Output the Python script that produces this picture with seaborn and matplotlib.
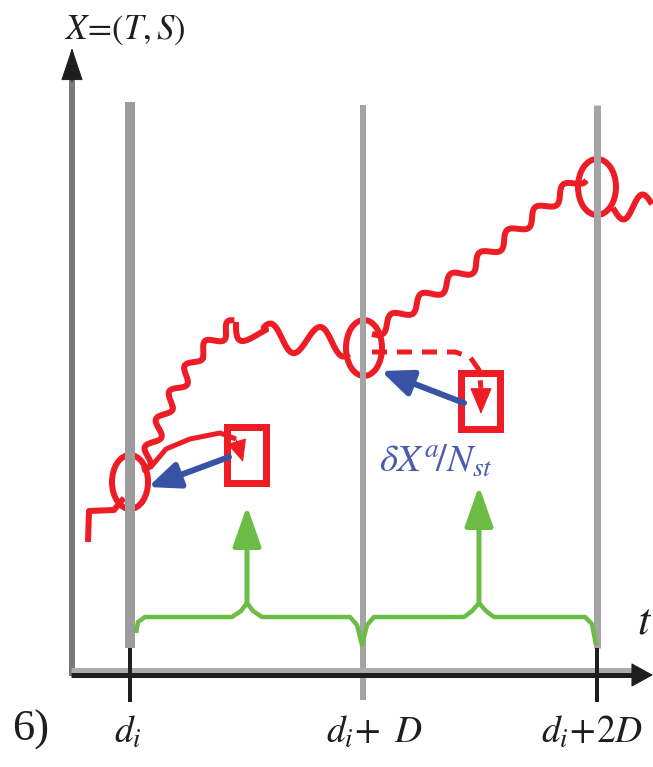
import matplotlib
matplotlib.use("Agg")
import matplotlib.pyplot as plt
import seaborn as sns
from matplotlib.patches import Ellipse, Rectangle

sns.set_theme(style="white")
plt.rcParams["font.family"] = ["Liberation Serif", "DejaVu Serif"]
plt.rcParams["mathtext.fontset"] = "stix"

# ---------------- data (diagram coordinates, pixel-like, y downward) ----------------
event_x = [130, 363, 597]                       # d_i, d_i+D, d_i+2D
event_labels = [r"$d_i$", r"$d_i\!+\ D$", r"$d_i\!+\!2D$"]
event_label_x = [128, 375, 592]
panel_label = "6)"
y_axis_label = r"$X\!=\!(T,S)$"
x_axis_label = r"$t$"
blue_label = r"$\delta X^{a}\!/N_{st}$"

# red (wiggly) trajectory, in segments
red_start_x = [88, 89, 114, 124]
red_start_y = [542, 511, 510, 498]
red_climb_x = [142, 168, 198, 236]
red_climb_y = [470, 405, 355, 322]
red_ridge_x = [236, 262, 350]
red_ridge_y = [322, 337, 343]
red_rise_x = [372, 470, 583]
red_rise_y = [334, 268, 176]
red_tail_x = [613, 652]
red_tail_y = [208, 206]

# loops at the assimilation times (cx, cy, w, h)
loop_cx = [130, 364, 597]
loop_cy = [482, 348, 187]
loop_w = [36, 36, 38]
loop_h = [54, 56, 56]

# red squares (analysis states)
square_cx = [246, 480]
square_cy = [455, 401]

# red forecast arcs ending in arrows
arc1_x = [150, 166, 190, 220, 236]
arc1_y = [468, 449, 439, 433, 439]
arc2_x = [372, 455, 470, 479, 481]
arc2_y = [352, 352, 357, 370, 388]

# blue increment arrows (start -> tip)
blue_from = [(229, 457), (464, 403)]
blue_to = [(148, 487), (381, 371)]

# green brace and arrows
brace_x = [136, 138, 145, 232, 241, 247, 253, 262, 350, 357, 362, 367, 374,
           464, 472, 479, 486, 494, 585, 592, 596]
brace_y = [633, 622, 617, 617, 611, 603, 611, 617, 617, 625, 645, 625, 617,
           617, 611, 603, 611, 617, 617, 624, 645]
green_arrow_x = [247, 479]
green_arrow_top = [506, 486]
green_arrow_bottom = [603, 603]

# ---------------- styles ----------------
RED = "#ee1c25"
GREEN = "#6cbd45"
BLUE = "#3953a4"
GRAY = "#9c9c9c"
PX = 0.72  # points per pixel at dpi=100

fig = plt.figure(figsize=(6.53, 7.67), dpi=100)
ax = fig.add_axes([0, 0, 1, 1])
ax.set_xlim(0, 653)
ax.set_ylim(767, 0)
ax.axis("off")


def poly(xs, ys, color, lw_px, z, **kw):
    sns.lineplot(x=xs, y=ys, sort=False, estimator=None, color=color,
                 linewidth=lw_px * PX, ax=ax, zorder=z, **kw)
    ln = ax.lines[-1]
    ln.set_solid_capstyle("butt")
    return ln


def arrow(p_from, p_to, color, lw_px, head_len_px, head_half_px, z):
    ax.annotate("", xy=p_to, xytext=p_from, zorder=z,
                arrowprops=dict(arrowstyle=f"-|>,head_length={head_len_px*PX},head_width={head_half_px*PX}",
                                color=color, lw=lw_px * PX, shrinkA=0, shrinkB=0,
                                mutation_scale=1))


# axes
poly([72, 72], [676, 76], "#7a7a7a", 6, 5)
arrow((72, 82), (72, 48), "#1e1e1e", 1, 30, 10, 6)
poly([71, 636], [669.5, 669.5], "#ababab", 5, 5)
poly([71, 636], [675, 675], "#1e1e1e", 5, 6)
arrow((632, 675), (653, 675), "#1e1e1e", 1, 20, 11, 6)

# vertical event lines and ticks
poly([event_x[0]] * 2, [102, 648], GRAY, 10, 3)
poly([event_x[1]] * 2, [105, 700], "#a4a4a4", 6, 3)
poly([event_x[2]] * 2, [105, 648], "#a4a4a4", 7, 3)
poly([event_x[0]] * 2, [648, 702], "#1e1e1e", 4, 6)
poly([event_x[2]] * 2, [648, 702], "#1e1e1e", 4, 6)

# red trajectory
poly(red_start_x, red_start_y, RED, 6, 2)
for xs, ys, amp, wl in [(red_climb_x, red_climb_y, 6, 30),
                        (red_ridge_x, red_ridge_y, 14, 50),
                        (red_rise_x, red_rise_y, 6, 36),
                        (red_tail_x, red_tail_y, 12, 40)]:
    ln = poly(xs, ys, RED, 6, 2)
    ln.set_sketch_params(scale=amp, length=wl, randomness=1)

for cx, cy, w, h in zip(loop_cx, loop_cy, loop_w, loop_h):
    ax.add_patch(Ellipse((cx, cy), w, h, fill=False, edgecolor=RED, lw=6 * PX, zorder=2))

for cx, cy in zip(square_cx, square_cy):
    ax.add_patch(Rectangle((cx - 19.5, cy - 28), 39, 56, fill=False, edgecolor=RED,
                           lw=7 * PX, zorder=4, joinstyle="miter"))

# red forecast arcs
poly(arc1_x, arc1_y, RED, 5, 4)
arrow((arc1_x[-1], arc1_y[-1]), (243, 462), RED, 1, 20, 9, 4)
poly(arc2_x, arc2_y, RED, 5, 4, linestyle=(0, (3, 2)))
arrow((arc2_x[-1], arc2_y[-1]), (481, 414), RED, 1, 24, 10, 4)

# blue increments
for p0, p1 in zip(blue_from, blue_to):
    arrow(p0, p1, BLUE, 6, 26, 11, 5)

# green brace + arrows
poly(brace_x, brace_y, GREEN, 4.5, 4)
for gx, top, bot in zip(green_arrow_x, green_arrow_top, green_arrow_bottom):
    arrow((gx, bot), (gx, top), GREEN, 5, 34, 12, 4)

# texts
TXT = "#1e1e1e"
ax.text(125, 30, y_axis_label, fontsize=25, color=TXT, ha="center", va="center")
ax.text(645, 622, x_axis_label, fontsize=32, color=TXT, ha="center", va="center")
ax.text(31, 730, panel_label, fontsize=32, color=TXT, ha="center", va="center")
for x, lab in zip(event_label_x, event_labels):
    ax.text(x, 733, lab, fontsize=27, color=TXT, ha="center", va="center")
ax.text(436, 462, blue_label, fontsize=28, color="#4a5cb0", ha="center", va="center")

fig.savefig("out.png", dpi=100)
